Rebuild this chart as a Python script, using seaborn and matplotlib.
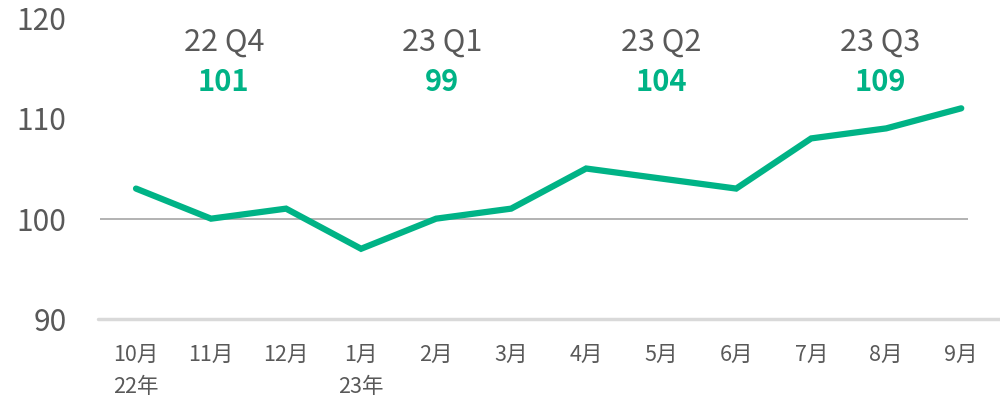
import matplotlib
matplotlib.use("Agg")
import matplotlib.pyplot as plt
import seaborn as sns
import pandas as pd

months = ["10月", "11月", "12月", "1月", "2月", "3月", "4月", "5月", "6月", "7月", "8月", "9月"]
year_labels = ["22年", "", "", "23年", "", "", "", "", "", "", "", ""]
values = [103, 100, 101, 97, 100, 101, 105, 104, 103, 108, 109, 111]
quarters = ["22 Q4", "23 Q1", "23 Q2", "23 Q3"]
quarter_values = [101, 99, 104, 109]
yticks = [90, 100, 110, 120]

sns.set_theme(style="white")
plt.rcParams['font.family'] = ['Noto Sans CJK JP', 'DejaVu Sans']

GREEN = "#00b386"
GRAY_TEXT = "#595959"

fig = plt.figure(figsize=(10, 4.04), dpi=100)
ax = fig.add_axes([0.100, 0.2104, 0.868, 0.745])

df = pd.DataFrame({"x": range(len(months)), "v": values})
sns.lineplot(data=df, x="x", y="v", ax=ax, color=GREEN, linewidth=4.5,
             solid_capstyle="round", solid_joinstyle="miter")

ax.set_xlim(-0.48, 11.09)
ax.set_ylim(90, 120)
ax.set_yticks(yticks)
ax.set_yticklabels([str(t) for t in yticks], fontsize=21.5, color=GRAY_TEXT)
ax.set_xticks(range(len(months)))
ax.set_xticklabels([m + ("\n" + y if y else "") for m, y in zip(months, year_labels)],
                   fontsize=15.5, color=GRAY_TEXT, linespacing=1.6, va="top")
ax.tick_params(axis="y", length=0, pad=24)
ax.tick_params(axis="x", length=0, pad=18)
ax.set_xlabel("")
ax.set_ylabel("")
for s in ax.spines.values():
    s.set_visible(False)

ax.axhline(100, color="#a6a6a6", linewidth=1.2, zorder=1)
ax.axhline(90, xmin=-0.002, xmax=(1000 - 100) / 868, color="#d9d9d9",
           linewidth=2.5, clip_on=False, zorder=1)

qpos = [1.17, 4.08, 7.0, 9.92]
for xq, q, v in zip(qpos, quarters, quarter_values):
    ax.text(xq, 117.6, q, ha="center", va="center", fontsize=22, color=GRAY_TEXT)
    ax.text(xq, 113.6, str(v), ha="center", va="center", fontsize=21,
            color=GREEN, fontweight="bold")

fig.savefig("out.png", dpi=100)
